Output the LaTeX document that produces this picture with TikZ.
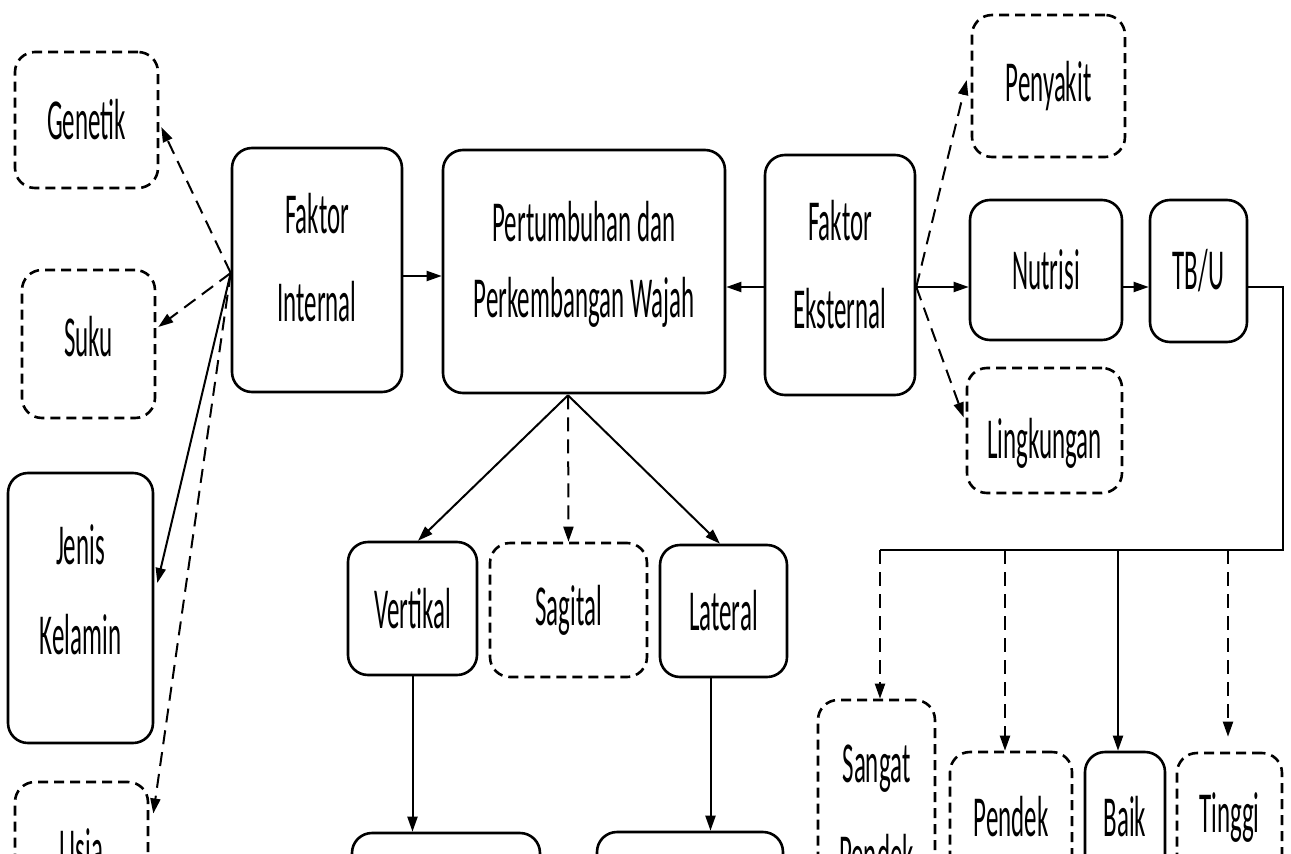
\documentclass[tikz,border=0pt]{standalone}
\usepackage{fontspec}
\setmainfont{Carlito}[FakeStretch=0.43]
\usetikzlibrary{arrows.meta,calc}
\newcommand{\mlines}[1]{\begin{tabular}{@{}c@{}}#1\end{tabular}}
\begin{document}
\begin{tikzpicture}[x=1pt,y=-1pt,
  bx/.style={draw, line width=2.6pt, rounded corners=20pt, align=center, inner sep=0pt,
    font=\fontsize{58}{88}\selectfont},
  dbx/.style={bx, dash pattern=on 10pt off 6pt},
  ln/.style={line width=2pt, -{Triangle[length=15pt,width=10pt]}},
  dln/.style={ln, dash pattern=on 14pt off 8pt},
  plain/.style={line width=2pt}]
\useasboundingbox (0,0) rectangle (1291,854);
\clip (0,0) rectangle (1291,854);
\fill[white] (0,0) rectangle (1291,854);

% left column
\node[dbx, minimum width=143pt, minimum height=136pt] (gen) at (86.5,120) {Genetik};
\node[dbx, minimum width=133pt, minimum height=148pt] (suku) at (88.5,344) {\mlines{Suku\\[10pt]}};
\node[bx, minimum width=145pt, minimum height=270pt] (jk) at (80.5,608) {\mlines{Jenis\\[2pt]Kelamin\\[32pt]}};
\node[dbx, minimum width=133pt, minimum height=133pt] (usia) at (81.5,848.5) {Usia};

% centre row
\node[bx, minimum width=170pt, minimum height=244pt] (fi) at (317,270) {\mlines{Faktor\\Internal\\[20pt]}};
\node[bx, minimum width=282pt, minimum height=243pt] (pw) at (584,271.5) {\mlines{Pertumbuhan dan\\[-12pt]Perkembangan Wajah\\[20pt]}};
\node[bx, minimum width=150pt, minimum height=240pt] (fe) at (840,275) {\mlines{Faktor\\Eksternal\\[17pt]}};

% right part
\node[dbx, minimum width=153pt, minimum height=142pt] (pen) at (1048.5,86) {Penyakit};
\node[bx, minimum width=152pt, minimum height=140pt] (nut) at (1046,270) {Nutrisi};
\node[bx, minimum width=97pt, minimum height=142pt] (tbu) at (1198.5,271) {TB/U};
\node[dbx, minimum width=155pt, minimum height=125pt] (lin) at (1044.5,430.5) {\mlines{\rule{0pt}{81.6pt}Lingkungan}};

% middle lower
\node[bx, minimum width=129pt, minimum height=133pt] (ver) at (412.5,608.5) {Vertikal};
\node[dbx, minimum width=157pt, minimum height=134pt] (sag) at (568.5,610) {Sagital};
\node[bx, minimum width=127pt, minimum height=132pt] (lat) at (723.5,611) {Lateral};
\node[bx, minimum width=188pt, minimum height=134pt] (vb) at (446,900) {};
\node[bx, minimum width=186pt, minimum height=136pt] (lb) at (690,900) {};

% bottom right
\node[dbx, minimum width=117pt, minimum height=221pt] (sp) at (876.5,810.5) {\mlines{Sangat\\[4pt]Pendek}};
\node[dbx, minimum width=122pt, minimum height=130pt] (pd) at (1011,817) {Pendek};
\node[bx, minimum width=80pt, minimum height=130pt] (bk) at (1125,817) {Baik};
\node[dbx, minimum width=105pt, minimum height=130pt] (tg) at (1229.5,818) {Tinggi};

% connectors from Faktor Internal
\coordinate (hi) at ($(fi.west)+(0,3)$);
\draw[dln] (hi) -- ($(gen.east)+(2,7)$);
\draw[dln] (hi) -- ($(suku.east)+(2,-17)$);
\draw[ln] (hi) -- ($(jk.east)+(3,-25)$);
\draw[dln] (hi) -- ($(usia.east)+(4,-35)$);
\draw[ln] ($(fi.east)+(0,6)$) -- ($(pw.west)+(0,4.5)$);

% connectors from Faktor Eksternal
\draw[ln] ($(fe.west)+(0,12)$) -- ($(pw.east)+(0,15.5)$);
\coordinate (he) at ($(fe.east)+(0,12)$);
\draw[dln] (he) -- ($(pen.west)+(-4,-6)$);
\draw[ln] (he) -- ($(nut.west)+(0,17)$);
\draw[dln] (he) -- ($(lin.west)+(-2,-13)$);
\draw[ln] ($(nut.east)+(0,17)$) -- ($(tbu.west)+(0,16)$);

% TB/U branches
\coordinate (c1) at (1283,550);
\coordinate (c2) at (880,550);
\draw[plain] ($(tbu.east)+(0,16)$) -| (c1) -- (c2);
\draw[dln] ([xshift=3.5pt]sp.north |- c2) -- ([xshift=3.5pt]sp.north);
\draw[dln] ([xshift=-6pt]pd.north |- c2) -- ([xshift=-6pt]pd.north);
\draw[ln] ([xshift=-7pt]bk.north |- c2) -- ([xshift=-7pt]bk.north);
\draw[dln] ([xshift=-1.5pt]tg.north |- c2) -- ([xshift=-1.5pt,yshift=15pt]tg.north);

% growth directions
\coordinate (apex) at ($(pw.south)+(-16,1)$);
\draw[ln] (apex) -- ($(ver.north)+(5.5,0)$);
\draw[dln] (apex) -- (sag.north);
\draw[ln] (apex) -- ($(lat.north)+(-3.5,0)$);
\draw[ln] (ver.south) -- (ver.south |- vb.north);
\draw[ln] ($(lat.south)+(-13,0)$) -- ($(lat.south |- lb.north)+(-13,0)$);
\end{tikzpicture}
\end{document}
